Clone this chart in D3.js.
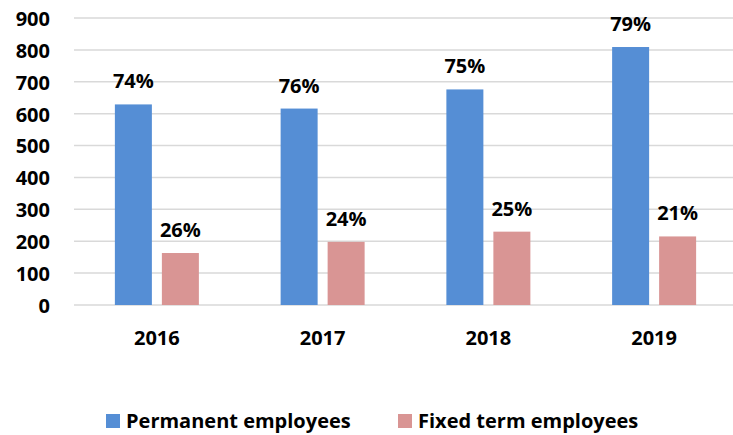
<!DOCTYPE html>
<html>
<head>
<meta charset="utf-8">
<script src="https://cdn.jsdelivr.net/npm/d3@7"></script>
<style>
  html, body { margin: 0; padding: 0; background: #fff; }
  svg { display: block; }
  text { font-family: "Open Sans", Lato, sans-serif; font-weight: 700; fill: #000; }
</style>
</head>
<body>
<svg id="chart" width="733" height="435"></svg>
<script>
// Employees by contract type, per year
const years = ["2016", "2017", "2018", "2019"];
const seriesNames = ["Permanent employees", "Fixed term employees"];
const permanent = [629, 616, 676, 809];
const fixedTerm = [163, 198, 230, 215];
const permanentShare = ["74%", "76%", "75%", "79%"];
const fixedTermShare = ["26%", "24%", "25%", "21%"];
const yTicks = [0, 100, 200, 300, 400, 500, 600, 700, 800, 900];

const colors = ["#558ED5", "#D99594"];
const FONT = "'Open Sans', Lato, sans-serif";

const svg = d3.select("#chart");
const W = 733, H = 435;
const plot = { left: 74, right: 737, top: 18, bottom: 305 };

const y = d3.scaleLinear().domain([0, 900]).range([plot.bottom, plot.top]);
const x0 = d3.scaleBand().domain(years).range([plot.left, plot.right]).padding(0);
const groupWidth = 84;
const x1 = d3.scaleBand().domain(seriesNames).range([0, groupWidth])
  .paddingInner(0.2128).paddingOuter(0);

// gridlines
svg.append("g")
  .selectAll("line")
  .data(yTicks)
  .join("line")
  .attr("x1", plot.left)
  .attr("x2", W)
  .attr("y1", d => y(d))
  .attr("y2", d => y(d))
  .attr("stroke", "#d9d9d9")
  .attr("stroke-width", 1.5);

// y axis labels
const yAxis = d3.axisLeft(y).tickValues(yTicks).tickSize(0).tickPadding(0);
const gy = svg.append("g").attr("transform", "translate(50,1)").call(yAxis);
gy.select(".domain").remove();
gy.selectAll("text")
  .attr("font-family", FONT)
  .attr("font-weight", 700)
  .attr("font-size", 20)
  .attr("fill", "#000");

// x axis labels
const xAxis = d3.axisBottom(x0).tickSize(0).tickPadding(0);
const gx = svg.append("g").attr("transform", `translate(0,${plot.bottom})`).call(xAxis);
gx.select(".domain").remove();
gx.selectAll("text")
  .attr("dy", null)
  .attr("y", 40)
  .attr("font-family", FONT)
  .attr("font-weight", 700)
  .attr("font-size", 20)
  .attr("fill", "#000");

// bars
const rows = years.map((yr, i) => ({
  year: yr,
  values: [
    { name: seriesNames[0], value: permanent[i], label: permanentShare[i], color: colors[0] },
    { name: seriesNames[1], value: fixedTerm[i], label: fixedTermShare[i], color: colors[1] }
  ]
}));

const groups = svg.append("g")
  .selectAll("g")
  .data(rows)
  .join("g")
  .attr("transform", d => `translate(${x0(d.year) + (x0.bandwidth() - groupWidth) / 2},0)`);

groups.selectAll("rect")
  .data(d => d.values)
  .join("rect")
  .attr("x", d => x1(d.name))
  .attr("width", x1.bandwidth())
  .attr("y", d => y(d.value))
  .attr("height", d => y(0) - y(d.value))
  .attr("fill", d => d.color);

groups.selectAll("text.val")
  .data(d => d.values)
  .join("text")
  .attr("class", "val")
  .attr("x", d => x1(d.name) + x1.bandwidth() / 2)
  .attr("y", d => y(d.value) - 16)
  .attr("text-anchor", "middle")
  .attr("font-size", 20)
  .text(d => d.label);

// legend
const legendItems = [
  { name: seriesNames[0], color: colors[0], x: 106 },
  { name: seriesNames[1], color: colors[1], x: 398 }
];
const lg = svg.append("g");
legendItems.forEach(it => {
  lg.append("rect")
    .attr("x", it.x).attr("y", 414)
    .attr("width", 14).attr("height", 14)
    .attr("fill", it.color);
  lg.append("text")
    .attr("x", it.x + 20).attr("y", 428)
    .attr("font-size", 20)
    .text(it.name);
});
</script>
</body>
</html>
